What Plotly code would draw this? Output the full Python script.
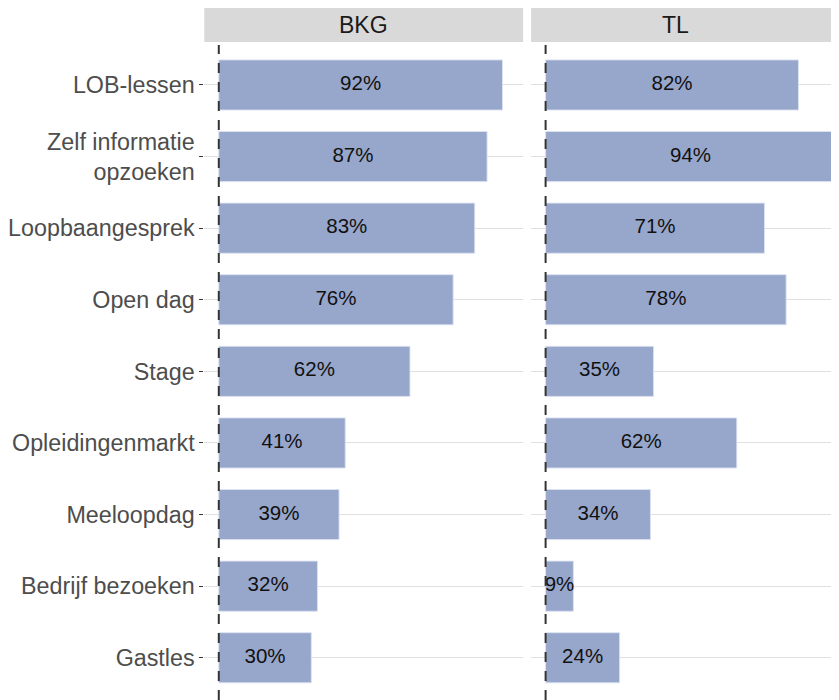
import plotly.graph_objects as go
from plotly.subplots import make_subplots

categories = ["LOB-lessen", "Zelf informatie<br>opzoeken", "Loopbaangesprek", "Open dag",
              "Stage", "Opleidingenmarkt", "Meeloopdag", "Bedrijf bezoeken", "Gastles"]
bkg_values = [0.92, 0.87, 0.83, 0.76, 0.62, 0.41, 0.39, 0.32, 0.30]
tl_values = [0.82, 0.94, 0.71, 0.78, 0.35, 0.62, 0.34, 0.09, 0.24]
panels = ["BKG", "TL"]

OFF = 8  # page body margin
W, H = 839 - OFF, 700 - OFF
BAR = "rgb(151,166,203)"
FONT = "Liberation Sans, Arial, sans-serif"

fig = make_subplots(rows=1, cols=2, shared_yaxes=True, horizontal_spacing=0.0)

for i, vals in enumerate([bkg_values, tl_values]):
    col = i + 1
    fig.add_trace(go.Bar(
        x=vals, y=categories, orientation="h", width=0.7,
        marker=dict(color=BAR, line=dict(color="rgba(220,226,240,0.9)", width=1)),
        hoverinfo="skip", showlegend=False), row=1, col=col)
    fig.add_trace(go.Scatter(
        x=[v / 2 for v in vals], y=categories, mode="text",
        text=[f"{round(v*100)}%" for v in vals],
        textfont=dict(size=20.5, color="#111111", family=FONT),
        hoverinfo="skip", showlegend=False), row=1, col=col)

full = [(202, 522), (530, 850)]
vis = [(202, 522), (530, 839)]
strip_top, strip_bot = 8 - OFF, 42 - OFF
x0, x1 = -0.047, 0.987
ppu = (full[0][1] - full[0][0]) / (x1 - x0)

for i in range(2):
    a, b = vis[i][0] - OFF, vis[i][1] - OFF
    ax = "xaxis" if i == 0 else "xaxis2"
    xr = [x0, x0 + (vis[i][1] - vis[i][0]) / ppu]
    fig.layout[ax].update(domain=[a / W, b / W], range=xr, showgrid=False, zeroline=False,
                          showticklabels=False, ticks="", showline=False, fixedrange=True)
    fig.add_shape(type="rect", xref="paper", yref="paper",
                  x0=a / W, x1=b / W, y0=1 - strip_bot / H, y1=1 - strip_top / H,
                  fillcolor="#D9D9D9", line=dict(width=0), layer="below")
    cx = (full[i][0] + full[i][1]) / 2 - OFF
    fig.add_annotation(xref="paper", yref="paper", x=cx / W,
                       y=1 - (strip_top + strip_bot) / 2 / H, text=panels[i], showarrow=False,
                       font=dict(size=23, color="#1A1A1A", family=FONT), yanchor="middle")
    fig.add_shape(type="line", xref=("x" if i == 0 else "x2"), yref="paper",
                  x0=0, x1=0, y0=0, y1=1 - strip_bot / H - 3 / H,
                  line=dict(color="#333333", width=2, dash="10px,9px"), layer="above")

ydom = [0, 1 - strip_bot / H]
fig.update_layout(
    yaxis=dict(domain=ydom, range=[8.59, -0.6], showgrid=True, gridcolor="#E0E0E0", gridwidth=1,
               ticks="outside", ticklen=4, tickcolor="#333333", tickwidth=1,
               tickfont=dict(size=23.3, color="#4D4D4D", family=FONT), zeroline=False,
               fixedrange=True, categoryorder="array", categoryarray=categories),
    yaxis2=dict(domain=ydom, range=[8.59, -0.6], showgrid=True, gridcolor="#E0E0E0", gridwidth=1,
                showticklabels=False, ticks="", zeroline=False, fixedrange=True),
    width=W, height=H, margin=dict(l=0, r=0, t=0, b=0),
    paper_bgcolor="white", plot_bgcolor="white", bargap=0.3,
    font=dict(family=FONT),
)

fig.write_html("out.html")
